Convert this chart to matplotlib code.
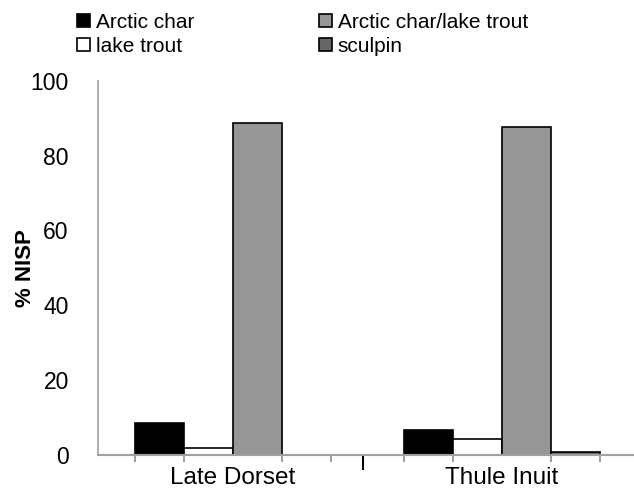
import matplotlib
matplotlib.use("Agg")
import matplotlib.pyplot as plt
import numpy as np

plt.rcParams['font.family'] = ['Liberation Sans', 'DejaVu Sans']

groups = ["Late Dorset", "Thule Inuit"]
series = ["Arctic char", "lake trout", "Arctic char/lake trout", "sculpin"]
values = {
    "Arctic char": [8.6, 6.6],
    "lake trout": [1.9, 4.2],
    "Arctic char/lake trout": [88.6, 87.5],
    "sculpin": [0.0, 0.7],
}
colors = {
    "Arctic char": "#000000",
    "lake trout": "#ffffff",
    "Arctic char/lake trout": "#969696",
    "sculpin": "#666666",
}
yticks = [0, 20, 40, 60, 80, 100]

fig = plt.figure(figsize=(6.34, 4.93), dpi=100)
ax = fig.add_axes([98/634, 1-454.7/493, (633-98)/634, (454.7-80.7)/493])

width = 1.0
group_left = np.array([0.755, 6.245])
handles = []
for i, s in enumerate(series):
    b = ax.bar(group_left + i*width, values[s], width=width, align='edge',
               color=colors[s], edgecolor='black', linewidth=1.2, label=s)
    handles.append(b)

ax.set_xlim(0, 535/49)
ax.set_ylim(0, 100)
ax.set_yticks(yticks)
ax.tick_params(axis='y', length=0, labelsize=16.5, pad=21)

centers = group_left + len(series)*width/2
ax.set_xticks(centers)
ax.set_xticklabels(groups, fontsize=17.5)
ax.tick_params(axis='x', which='major', length=0, pad=9)
edges = np.concatenate([gl + np.arange(len(series)+1)*width for gl in group_left])
ax.set_xticks(edges, minor=True)
ax.tick_params(axis='x', which='minor', length=5, color='#8c8c8c', width=1.2)

sep = (group_left[0] + len(series)*width + group_left[1]) / 2 - 0.09
sec = ax.secondary_xaxis('bottom')
sec.set_xticks([sep])
sec.set_xticklabels([''])
sec.tick_params(length=11, width=1.5, color='black')
sec.spines['bottom'].set_visible(False)

for sp in ['top', 'right']:
    ax.spines[sp].set_visible(False)
ax.spines['left'].set_color('#a0a0a0')
ax.spines['bottom'].set_color('#a0a0a0')
ax.spines['left'].set_linewidth(1.2)
ax.spines['bottom'].set_linewidth(1.5)

ax.set_ylabel("% NISP", fontsize=16, fontweight='bold')
ax.yaxis.set_label_coords(-0.115, 0.5)

fig.legend(handles=handles, labels=series, ncol=2, loc='upper left',
           bbox_to_anchor=(77/634, 1-13/493), frameon=False, fontsize=15,
           handlelength=0.6, handleheight=0.6, handletextpad=0.3,
           columnspacing=6.0, labelspacing=0.25, borderaxespad=0, borderpad=0)

fig.savefig("out.png", dpi=100)
